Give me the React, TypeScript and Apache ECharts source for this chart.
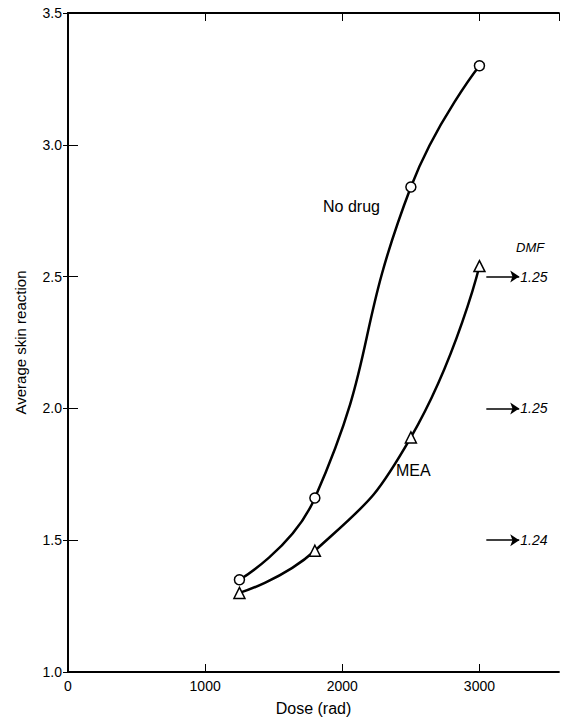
import React, { useEffect, useRef } from "react";
import * as echarts from "echarts";

const doses = [1250, 1800, 2500, 3000];
const noDrug = [1.35, 1.66, 2.84, 3.3];
const mea = [1.3, 1.46, 1.89, 2.54];
const dmfLevels = [2.5, 2.0, 1.5];
const dmfValues = ["1.25", "1.25", "1.24"];
const arrowFrom = 3050;
const arrowTo = 3290;

const FONT = "Liberation Sans, Arial, Helvetica, sans-serif";

export default function App() {
  const ref = useRef<HTMLDivElement>(null);
  useEffect(() => {
    if (!ref.current) return;
    const chart = echarts.init(ref.current, undefined, { renderer: "svg" });
    const axisLineStyle = { color: "#000", width: 1.8 };
    const option: any = {
      animation: false,
      backgroundColor: "#fff",
      textStyle: { fontFamily: FONT, color: "#000" },
      grid: { left: 68, right: 4, top: 13, bottom: 49 },
      xAxis: [
        {
          type: "value",
          min: 0,
          max: 3580,
          interval: 1000,
          position: "bottom",
          name: "Dose (rad)",
          nameLocation: "middle",
          nameGap: 28,
          nameTextStyle: { fontSize: 16, color: "#000", fontFamily: FONT },
          axisLine: { show: true, lineStyle: axisLineStyle },
          axisTick: { show: true, inside: true, length: 8, lineStyle: { color: "#000", width: 1 } },
          axisLabel: {
            color: "#000",
            fontSize: 14,
            margin: 7,
            fontFamily: FONT,
            showMaxLabel: false,
            formatter: (v: number) => (v % 1000 === 0 ? String(v) : ""),
          },
          splitLine: { show: false },
        },
        {
          type: "value",
          min: 0,
          max: 3580,
          interval: 1000,
          position: "top",
          axisLine: { show: true, lineStyle: axisLineStyle },
          axisTick: { show: true, inside: true, length: 8, lineStyle: { color: "#000", width: 1 } },
          axisLabel: { show: false },
          splitLine: { show: false },
        },
      ],
      yAxis: [
        {
          type: "value",
          min: 1,
          max: 3.5,
          interval: 0.5,
          position: "left",
          name: "Average skin reaction",
          nameLocation: "middle",
          nameGap: 40,
          nameTextStyle: { fontSize: 15, color: "#000", fontFamily: FONT },
          axisLine: { show: true, lineStyle: axisLineStyle },
          axisTick: { show: true, inside: true, length: 10, lineStyle: { color: "#000", width: 1 } },
          axisLabel: {
            color: "#000",
            fontSize: 14,
            margin: 6,
            fontFamily: FONT,
            formatter: (v: number) => v.toFixed(1),
          },
          splitLine: { show: false },
        },
        {
          type: "value",
          min: 1,
          max: 3.5,
          interval: 0.5,
          position: "right",
          axisLine: { show: true, lineStyle: axisLineStyle },
          axisTick: { show: true, inside: true, length: 5, lineStyle: { color: "#000", width: 1 } },
          axisLabel: { show: false },
          splitLine: { show: false },
        },
      ],
      series: [
        {
          name: "No drug",
          type: "line",
          smooth: 0.5,
          data: doses.map((d, i) => [d, noDrug[i]]),
          symbol: "circle",
          symbolSize: 10,
          lineStyle: { color: "#000", width: 2.5 },
          itemStyle: { color: "#fff", borderColor: "#000", borderWidth: 1.5 },
          z: 3,
        },
        {
          name: "MEA",
          type: "line",
          smooth: 0.5,
          data: doses.map((d, i) => [d, mea[i]]),
          symbol: "triangle",
          symbolSize: 11,
          lineStyle: { color: "#000", width: 2.5 },
          itemStyle: { color: "#fff", borderColor: "#000", borderWidth: 1.5 },
          z: 3,
          markLine: {
            silent: true,
            symbol: ["none", "arrow"],
            symbolSize: 9,
            lineStyle: { color: "#000", width: 1.5, type: "solid" },
            itemStyle: { color: "#000" },
            label: {
              show: true,
              position: "end",
              formatter: (p: any) => p.data.value,
              color: "#000",
              fontSize: 14,
              fontStyle: "italic",
              fontFamily: FONT,
              distance: 1,
            },
            data: dmfLevels.map((lv, i) => [
              { coord: [arrowFrom, lv], value: dmfValues[i] },
              { coord: [arrowTo, lv] },
            ]),
          },
        },
      ],
      graphic: [
        {
          type: "text",
          left: 323,
          top: 198,
          style: { text: "No drug", fontSize: 16, fill: "#000", fontFamily: FONT },
        },
        {
          type: "text",
          left: 396,
          top: 462,
          style: { text: "MEA", fontSize: 16, fill: "#000", fontFamily: FONT },
        },
        {
          type: "text",
          left: 516,
          top: 241,
          style: { text: "DMF", fontSize: 13, fontStyle: "italic", fill: "#000", fontFamily: FONT },
        },
      ],
    };
    chart.setOption(option);
    return () => chart.dispose();
  }, []);
  return (
    <div
      ref={ref}
      style={{ position: "fixed", left: 0, top: 0, width: 563, height: 721, background: "#fff" }}
    />
  );
}
